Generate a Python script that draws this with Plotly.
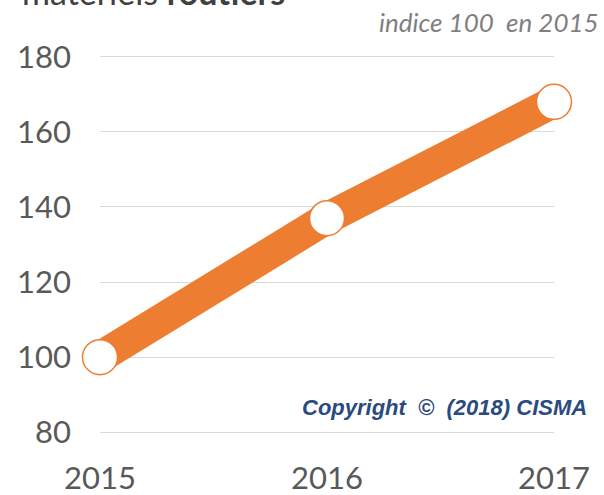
import plotly.graph_objects as go

years = ["2015", "2016", "2017"]
index_values = [100, 137, 168]
y_ticks = [80, 100, 120, 140, 160, 180]

ORANGE = "#ED7D31"
GRAY = "#595959"

fig = go.Figure()
fig.add_trace(go.Scatter(
    x=years, y=index_values, mode="lines+markers",
    line=dict(color=ORANGE, width=32),
    marker=dict(size=35, color="white", line=dict(color=ORANGE, width=1.5)),
    cliponaxis=False, showlegend=False, hoverinfo="skip",
))

fig.update_layout(
    width=604, height=495,
    margin=dict(l=100, r=50, t=53, b=59, autoexpand=False),
    paper_bgcolor="white", plot_bgcolor="white",
    font=dict(family="Lato", color=GRAY),
    xaxis=dict(type="category", range=[0, 2], showgrid=False, zeroline=False,
               showline=False, ticks="", tickfont=dict(size=31, color=GRAY),
               ticklabelstandoff=21, automargin=False),
    yaxis=dict(range=[79, 181], tickvals=y_ticks, showgrid=True,
               gridcolor="#D9D9D9", gridwidth=1, zeroline=False, showline=False,
               ticks="", tickfont=dict(size=31, color=GRAY), ticklabelstandoff=28,
               automargin=False),
)

fig.add_annotation(
    text="matériels <b>routiers</b>", xref="paper", yref="paper",
    x=(20 - 100) / 454, y=1 + 39 / 383, xanchor="left", yanchor="bottom",
    showarrow=False, font=dict(family="Lato", size=34, color="#404040"),
)
fig.add_annotation(
    text="<i>indice 100\u00a0 en 2015</i>", xref="paper", yref="paper",
    x=(601 - 100) / 454, y=1 + (53 - 22) / 383, xanchor="right", yanchor="middle",
    showarrow=False, font=dict(family="Lato", size=26, color="#7F7F7F"),
)
fig.add_annotation(
    text="<b><i>Copyright\u00a0\u00a0©\u00a0\u00a0(2018) CISMA</i></b>", xref="paper", yref="paper",
    x=(589 - 100) / 454, y=(436 - 407) / 383, xanchor="right", yanchor="middle",
    showarrow=False, font=dict(family="Liberation Sans", size=22, color="#2A4A80"),
)

fig.write_html("out.html", config={"displayModeBar": False},
               post_script="document.body.style.margin='0';")
